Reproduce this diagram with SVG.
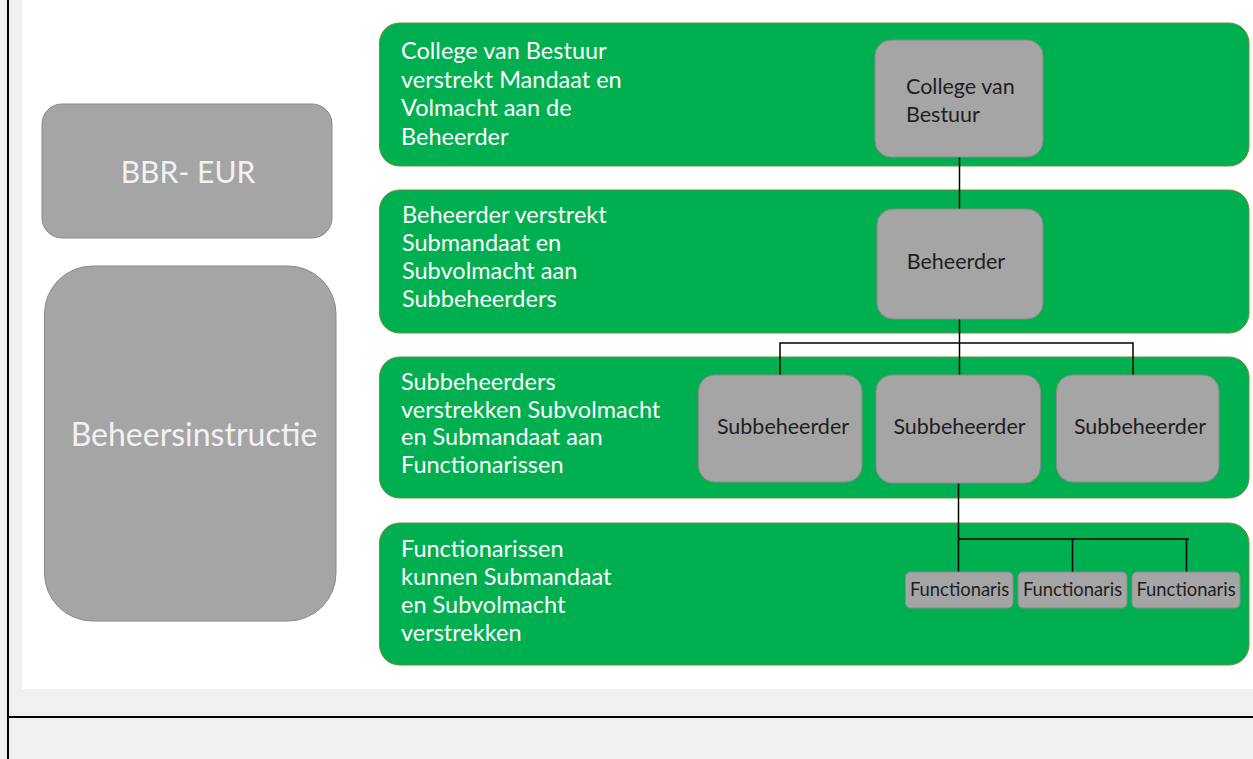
<svg xmlns="http://www.w3.org/2000/svg" width="1253" height="759" viewBox="0 0 1253 759">
<style>
.band{fill:#00b050;stroke:#6b8e3a;stroke-width:1}
.gbox{fill:#a5a5a5;stroke:#8a8a8a;stroke-width:1}
.bt{font-family:Lato,"Liberation Sans",sans-serif;font-size:23.5px;fill:#ffffff}
.nt{font-family:Lato,"Liberation Sans",sans-serif;font-size:21.5px;fill:#1e1e1e}
.ft{font-family:Lato,"Liberation Sans",sans-serif;font-size:18.4px;fill:#1e1e1e}
.lt{font-family:Lato,"Liberation Sans",sans-serif;font-size:30px;fill:#f2f2f2}
.cn{stroke:#000;stroke-width:1.5;fill:none}
</style>
<rect x="0" y="0" width="1253" height="759" fill="#f0f0f0"/>
<rect x="22" y="0" width="1231" height="689" fill="#ffffff"/>
<line x1="8" y1="0" x2="8" y2="759" stroke="#000" stroke-width="2"/>
<line x1="8" y1="717" x2="1253" y2="717" stroke="#000" stroke-width="2"/>

<g id="bbr-eur">
<rect class="gbox" x="42" y="104" width="290" height="134" rx="20"/>
<text class="lt" x="188" y="183" text-anchor="middle">BBR- EUR</text>
</g>
<g id="beheersinstructie">
<rect class="gbox" x="44.5" y="266" width="291.5" height="355" rx="48"/>
<text class="lt" x="194" y="446" text-anchor="middle" style="font-size:32px">Beheersinstructie</text>
</g>

<g id="band1">
<rect class="band" x="379.5" y="23" width="869.5" height="143" rx="20"/>
<text class="bt" x="401" y="59">College van Bestuur</text>
<text class="bt" x="401" y="88">verstrekt Mandaat en</text>
<text class="bt" x="401" y="116">Volmacht aan de</text>
<text class="bt" x="401" y="145">Beheerder</text>
</g>
<g id="band2">
<rect class="band" x="379.5" y="190" width="869.5" height="143" rx="20"/>
<text class="bt" x="402" y="223">Beheerder verstrekt</text>
<text class="bt" x="402" y="251">Submandaat en</text>
<text class="bt" x="402" y="279">Subvolmacht aan</text>
<text class="bt" x="402" y="307">Subbeheerders</text>
</g>
<g id="band3">
<rect class="band" x="379.5" y="357" width="869.5" height="141" rx="20"/>
<text class="bt" x="401" y="390">Subbeheerders</text>
<text class="bt" x="401" y="418">verstrekken Subvolmacht</text>
<text class="bt" x="401" y="445">en Submandaat aan</text>
<text class="bt" x="401" y="473">Functionarissen</text>
</g>
<g id="band4">
<rect class="band" x="379.5" y="523" width="869.5" height="142" rx="20"/>
<text class="bt" x="401" y="557">Functionarissen</text>
<text class="bt" x="401" y="585">kunnen Submandaat</text>
<text class="bt" x="401" y="613">en Subvolmacht</text>
<text class="bt" x="401" y="641">verstrekken</text>
</g>

<g id="connectors">
<line class="cn" x1="959.5" y1="157" x2="959.5" y2="209"/>
<line class="cn" x1="959.5" y1="319" x2="959.5" y2="391"/>
<polyline class="cn" points="780,375 780,343 1133,343 1133,375"/>
<line class="cn" x1="958.5" y1="483" x2="958.5" y2="572"/>
<polyline class="cn" points="958.5,539 1189,539"/>
<line class="cn" x1="1072.5" y1="539" x2="1072.5" y2="572"/>
<line class="cn" x1="1186.5" y1="539" x2="1186.5" y2="572"/>
</g>

<g id="college">
<rect class="gbox" x="875" y="40" width="168" height="117" rx="16"/>
<text class="nt" x="906" y="94">College van</text>
<text class="nt" x="906" y="122">Bestuur</text>
</g>
<g id="beheerder">
<rect class="gbox" x="877" y="209" width="166" height="110" rx="16"/>
<text class="nt" x="956" y="269" text-anchor="middle">Beheerder</text>
</g>
<g id="sub1">
<rect class="gbox" x="698.5" y="375" width="163.5" height="107" rx="16"/>
<text class="nt" x="783" y="434" text-anchor="middle">Subbeheerder</text>
</g>
<g id="sub2">
<rect class="gbox" x="876" y="375" width="164.5" height="108" rx="16"/>
<text class="nt" x="959.5" y="434" text-anchor="middle">Subbeheerder</text>
</g>
<g id="sub3">
<rect class="gbox" x="1056.5" y="375" width="162.5" height="107" rx="16"/>
<text class="nt" x="1140" y="434" text-anchor="middle">Subbeheerder</text>
</g>
<g id="func1">
<rect class="gbox" x="905.5" y="572" width="107.5" height="36" rx="5"/>
<text class="ft" x="959.5" y="596" text-anchor="middle">Functionaris</text>
</g>
<g id="func2">
<rect class="gbox" x="1018" y="572" width="109" height="36" rx="5"/>
<text class="ft" x="1072.5" y="596" text-anchor="middle">Functionaris</text>
</g>
<g id="func3">
<rect class="gbox" x="1132" y="572" width="108" height="36" rx="5"/>
<text class="ft" x="1186" y="596" text-anchor="middle">Functionaris</text>
</g>
</svg>
